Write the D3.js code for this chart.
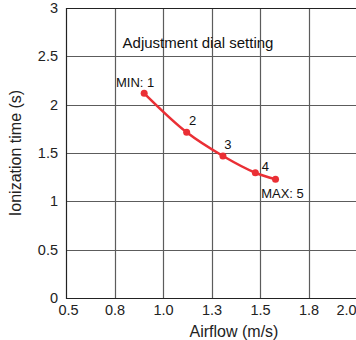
<!DOCTYPE html>
<html>
<head>
<meta charset="utf-8">
<script src="https://cdn.jsdelivr.net/npm/d3@7"></script>
</head>
<body style="margin:0">
<svg width="356" height="340"></svg>
<script>
const airflow = [0.903, 1.122, 1.309, 1.476, 1.58]
const ionTime = [2.117, 1.714, 1.469, 1.296, 1.228]
const dialLabels = ['MIN: 1', '2', '3', '4', 'MAX: 5']
const xTicks = [0.5, 0.75, 1.0, 1.25, 1.5, 1.75, 2.0]
const yTicks = [0, 0.5, 1, 1.5, 2, 2.5, 3]

const svg = d3.select('svg')
    .style('font-family', '"Liberation Sans", Arial, sans-serif')

const plotLeft = 66, plotTop = 8, plotRight = 357, plotBottom = 298

const x = d3.scaleLinear().domain([0.5, 2.0]).range([plotLeft, plotRight])
const y = d3.scaleLinear().domain([0, 3]).range([plotBottom, plotTop])

const red = '#ea2f35'
const data = airflow.map((d, i) => ({ x: d, y: ionTime[i], label: dialLabels[i] }))

// grid: one path for all lines
const gridPath = d3.path()
xTicks.slice(1, -1).forEach(d => {
    gridPath.moveTo(Math.round(x(d)) + 0.5, plotTop)
    gridPath.lineTo(Math.round(x(d)) + 0.5, plotBottom)
})
yTicks.slice(1, -1).forEach(d => {
    gridPath.moveTo(plotLeft, Math.round(y(d)) + 0.5)
    gridPath.lineTo(plotRight, Math.round(y(d)) + 0.5)
})
svg.append('path')
    .attr('d', gridPath.toString())
    .attr('fill', 'none')
    .attr('stroke', '#5c5c5c')
    .attr('stroke-width', 1.2)

// border
svg.append('path')
    .attr('d', `M${plotRight},${plotTop + 0.5}H${plotLeft + 0.5}V${plotBottom + 0.5}H${plotRight}`)
    .attr('fill', 'none')
    .attr('stroke', '#222')
    .attr('stroke-width', 1.2)

// axes labels
const xAxis = svg.append('g')
    .attr('transform', `translate(0, ${plotBottom})`)
    .call(d3.axisBottom(x).tickValues(xTicks).tickSize(0).tickPadding(7)
        .tickFormat(d3.format('.1f')))
xAxis.select('.domain').remove()
xAxis.selectAll('text')
    .attr('font-size', 14.5)
    .attr('font-family', '"Liberation Sans", Arial, sans-serif')
    .attr('fill', '#222')
    .attr('dx', (d, i) => i === 0 ? 2 : (i === xTicks.length - 1 ? -11 : 0))

const yAxis = svg.append('g')
    .attr('transform', `translate(${plotLeft}, 0)`)
    .call(d3.axisLeft(y).tickValues(yTicks).tickSize(0).tickPadding(8)
        .tickFormat(d3.format('')))
yAxis.select('.domain').remove()
yAxis.selectAll('text')
    .attr('font-size', 14.5)
    .attr('font-family', '"Liberation Sans", Arial, sans-serif')
    .attr('fill', '#222')

// titles
svg.append('text')
    .attr('x', 234)
    .attr('y', 337)
    .attr('text-anchor', 'middle')
    .attr('font-size', 16)
    .attr('fill', '#222')
    .text('Airflow (m/s)')

svg.append('text')
    .attr('transform', `translate(21, ${(plotTop + plotBottom) / 2}) rotate(-90)`)
    .attr('text-anchor', 'middle')
    .attr('font-size', 16)
    .attr('fill', '#222')
    .text('Ionization time (s)')

svg.append('text')
    .attr('x', 198)
    .attr('y', 48)
    .attr('text-anchor', 'middle')
    .attr('font-size', 15)
    .attr('fill', '#111')
    .text('Adjustment dial setting')

// curve
const line = d3.line()
    .x(d => x(d.x))
    .y(d => y(d.y))
    .curve(d3.curveMonotoneX)

svg.append('path')
    .datum(data)
    .attr('d', line)
    .attr('fill', 'none')
    .attr('stroke', red)
    .attr('stroke-width', 2.5)

svg.append('g')
    .selectAll('circle')
    .data(data)
    .join('circle')
        .attr('cx', d => x(d.x))
        .attr('cy', d => y(d.y))
        .attr('r', 3.5)
        .attr('fill', red)

const labelOffsets = [[-9, -6], [6, -7], [5, -7], [10, -2], [7, 19]]

svg.append('g')
    .selectAll('text')
    .data(data)
    .join('text')
        .attr('x', (d, i) => x(d.x) + labelOffsets[i][0])
        .attr('y', (d, i) => y(d.y) + labelOffsets[i][1])
        .attr('text-anchor', 'middle')
        .attr('font-size', 13)
        .attr('fill', '#111')
        .text(d => d.label)
</script>
</body>
</html>
